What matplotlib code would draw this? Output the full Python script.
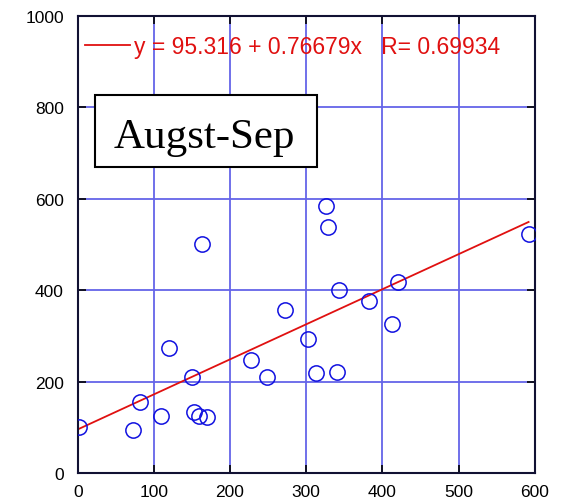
import matplotlib
matplotlib.use('Agg')
import matplotlib.pyplot as plt
from matplotlib.patches import Rectangle
import numpy as np

# values
x_vals=[2,73,82,110,120,150,153,159,163,170,228,249,272,303,313,326,328,341,343,383,413,421,592]
y_vals=[100,95,156,125,274,210,133,124,500,123,247,210,357,294,219,584,539,221,401,377,327,417,522]
intercept=95.316
slope=0.76679
r_val=0.69934
title_text='Augst-Sep'
x_ticks=[0,100,200,300,400,500,600]
y_ticks=[0,200,400,600,800,1000]

plt.rcParams['font.family']=['Liberation Sans','DejaVu Sans']

fig=plt.figure(figsize=(5.61,5.02),dpi=100)
ax=fig.add_axes([0.1385,0.0558,0.8146,0.9104])

ax.grid(True,color='#6464e8',lw=1.3,zorder=0)
ax.set_axisbelow(True)

ax.plot(x_vals,y_vals,'o',ms=11,mfc='none',mec='#1010e0',mew=1.1,zorder=3)

fx=np.array([min(x_vals),max(x_vals)])
label=f'y = {intercept} + {slope}x   R= {r_val}'
ax.plot(fx,intercept+slope*fx,color='#e01010',lw=1.3,zorder=2,label=label)

leg=ax.legend(loc='upper left',bbox_to_anchor=(-0.005,0.978),frameon=False,fontsize=16.5,
              labelcolor='#e01010',handlelength=2.0,handletextpad=0.15,borderaxespad=0)

ax.add_patch(Rectangle((0.0372,0.670),0.4858,0.157,transform=ax.transAxes,
                       fill=True,fc='white',ec='black',lw=1.5,zorder=4))
ax.text(0.2768,0.7127,title_text,transform=ax.transAxes,ha='center',va='baseline',
        fontsize=31,family='Liberation Serif',zorder=5)

ax.set_xlim(0,600)
ax.set_ylim(0,1000)
ax.set_xticks(x_ticks)
ax.set_yticks(y_ticks)
ax.tick_params(direction='in',length=6,width=1.2,top=True,right=True,labelsize=12.5)
ax.tick_params(axis='y',pad=10)
ax.tick_params(axis='x',pad=8)
for s in ax.spines.values():
    s.set_linewidth(1.5)
    s.set_color('#111133')

fig.savefig('out.png',dpi=100)
